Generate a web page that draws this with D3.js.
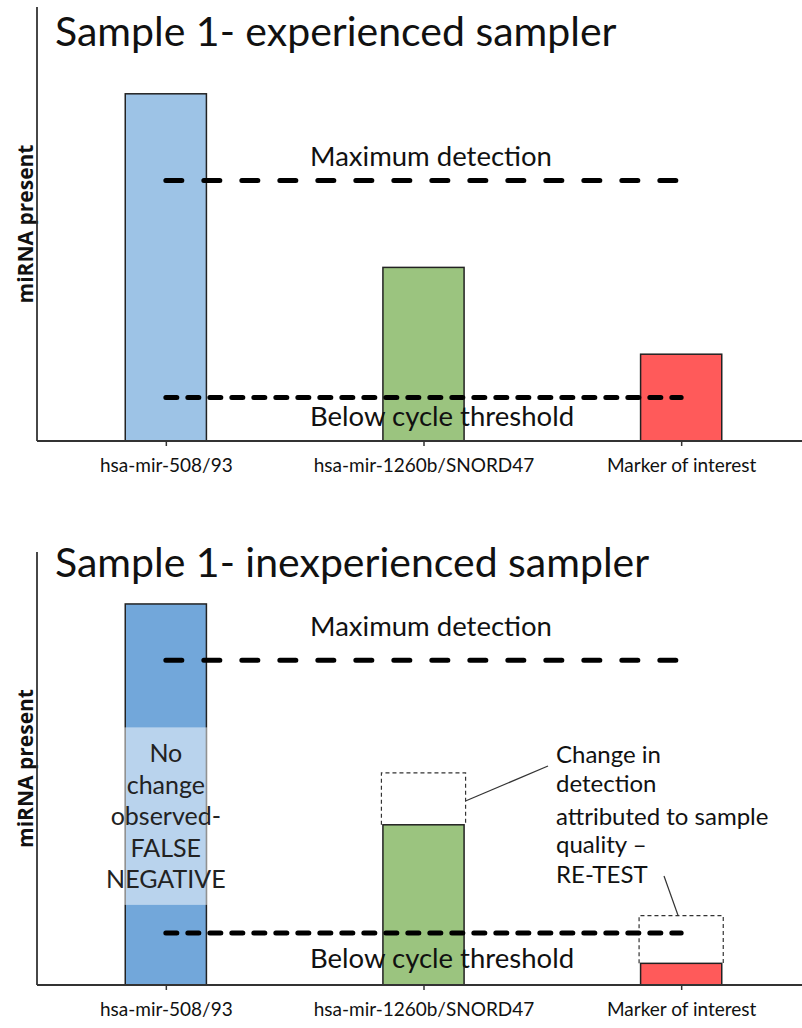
<!DOCTYPE html>
<html>
<head>
<meta charset="utf-8">
<script src="https://cdn.jsdelivr.net/npm/d3@7"></script>
<style>
  html, body { margin: 0; padding: 0; background: #fff; }
  svg { display: block; font-family: Lato, "Open Sans", sans-serif; }
</style>
</head>
<body>
<svg id="chart" width="802" height="1028"></svg>
<script>
// Marker categories shared by both panels
const categories = ["hsa-mir-508/93", "hsa-mir-1260b/SNORD47", "Marker of interest"];

// Relative miRNA signal (arbitrary units, 0-100)
const experiencedValues = [80, 40, 20];
const inexperiencedValues = [88, 37, 5];

// Level the inexperienced sample should have reached (dashed outline), null = no change
const expectedValues = [null, 49, 16];

// Detection limits per panel
const experiencedLimits = { max: 60, min: 10 };
const inexperiencedLimits = { max: 75, min: 12 };

// Part of the first bar that hides the drop (false negative)
const falseNegativeBand = [18.5, 59.5];

const titles = ["Sample 1- experienced sampler", "Sample 1- inexperienced sampler"];
const falseNegativeText = ["No", "change", "observed-", "FALSE", "NEGATIVE"];
const retestText = ["Change in", "detection", "attributed to sample", "quality \u2013", "RE-TEST"];

const colors = ["#9dc3e6", "#9bc47f", "#ff5a5a"];
const colorsDark = ["#72a7da", "#9bc47f", "#ff5a5a"];

const svg = d3.select("#chart");
const left = 37, right = 810;

const x = d3.scalePoint().domain(categories).range([left, right]).padding(0.5);
const barWidth = x.step() * 0.315;

function drawPanel(cfg) {
  const g = svg.append("g");
  const y = d3.scaleLinear().domain([0, 100]).range([cfg.bottom, cfg.top]);

  // title
  g.append("text")
    .attr("x", 55).attr("y", cfg.titleY)
    .attr("font-size", 41).attr("fill", "#111")
    .text(cfg.title);

  // y axis label
  g.append("text")
    .attr("transform", `translate(33,${(cfg.top + cfg.bottom) / 2}) rotate(-90)`)
    .attr("text-anchor", "middle")
    .attr("font-family", "'Open Sans', sans-serif")
    .attr("font-size", 21).attr("font-weight", "bold").attr("fill", "#111")
    .text("miRNA present");

  // bars
  g.selectAll("rect.bar").data(cfg.values).join("rect")
    .attr("class", "bar")
    .attr("x", (d, i) => x(categories[i]) - barWidth / 2)
    .attr("width", barWidth)
    .attr("y", d => y(d))
    .attr("height", d => y(0) - y(d))
    .attr("fill", (d, i) => cfg.colors[i])
    .attr("stroke", "#222").attr("stroke-width", 1.5);

  if (cfg.extra) cfg.extra(g, y);

  // detection limits
  const x0 = x(categories[0]), x1 = x(categories[categories.length - 1]);
  g.append("line")
    .attr("x1", x0).attr("x2", x1)
    .attr("y1", y(cfg.limits.max)).attr("y2", y(cfg.limits.max))
    .attr("stroke", "#000").attr("stroke-width", 5)
    .attr("stroke-linecap", "round").attr("stroke-dasharray", "16,22");
  g.append("line")
    .attr("x1", x0).attr("x2", x1)
    .attr("y1", y(cfg.limits.min)).attr("y2", y(cfg.limits.min))
    .attr("stroke", "#000").attr("stroke-width", 5)
    .attr("stroke-linecap", "round").attr("stroke-dasharray", "11,11");

  g.append("text")
    .attr("x", 431).attr("y", y(cfg.limits.max) + cfg.maxLabelDy)
    .attr("text-anchor", "middle").attr("font-size", 27.5).attr("fill", "#111")
    .text("Maximum detection");
  g.append("text")
    .attr("x", 442).attr("y", y(cfg.limits.min) + cfg.minLabelDy)
    .attr("text-anchor", "middle").attr("font-size", 27.5).attr("fill", "#111")
    .text("Below cycle threshold");

  // axes
  g.append("line")
    .attr("x1", left).attr("x2", left)
    .attr("y1", cfg.top).attr("y2", cfg.bottom)
    .attr("stroke", "#333").attr("stroke-width", 1.8);

  const axis = d3.axisBottom(x).tickSize(5).tickPadding(13);
  const ax = g.append("g").attr("transform", `translate(0,${cfg.bottom})`).call(axis);
  ax.select(".domain").attr("d", `M${left},0H802`).attr("stroke", "#333").attr("stroke-width", 1.8);
  ax.selectAll(".tick line").attr("stroke", "#333").attr("stroke-width", 1.5);
  ax.selectAll(".tick text")
    .attr("font-family", "Lato, sans-serif").attr("font-size", 19).attr("fill", "#111");
}

drawPanel({
  title: titles[0], titleY: 46, top: 7, bottom: 441,
  values: experiencedValues, colors: colors, limits: experiencedLimits,
  maxLabelDy: -15, minLabelDy: 28
});

drawPanel({
  title: titles[1], titleY: 577, top: 552, bottom: 985,
  values: inexperiencedValues, colors: colorsDark, limits: inexperiencedLimits,
  maxLabelDy: -24, minLabelDy: 35,
  extra: (g, y) => {
    // lightened band on the first bar
    const cx = x(categories[0]);
    g.append("rect")
      .attr("x", cx - barWidth / 2 - 1).attr("width", barWidth + 2)
      .attr("y", y(falseNegativeBand[1]))
      .attr("height", y(falseNegativeBand[0]) - y(falseNegativeBand[1]))
      .attr("fill", "#fff").attr("opacity", 0.5);
    g.append("g").selectAll("text").data(falseNegativeText).join("text")
      .attr("x", cx).attr("y", (d, i) => 762 + i * 31.5)
      .attr("text-anchor", "middle").attr("font-size", 25).attr("fill", "#222")
      .text(d => d);

    // expected levels as dashed outlines above the measured bars
    const exp = expectedValues.map((v, i) => ({ v, i })).filter(d => d.v !== null);
    g.selectAll("path.expected").data(exp).join("path")
      .attr("class", "expected")
      .attr("d", d => {
        const xl = x(categories[d.i]) - barWidth / 2 - 1.5;
        const xr = x(categories[d.i]) + barWidth / 2 + 1.5;
        const yt = y(d.v), yb = y(inexperiencedValues[d.i]);
        return `M${xl},${yb}V${yt}H${xr}V${yb}`;
      })
      .attr("fill", "none").attr("stroke", "#333").attr("stroke-width", 1.2)
      .attr("stroke-dasharray", "4,3");

    // note and leader lines
    const tx = 556;
    const lineY = [763, 792, 825, 853, 883];
    g.append("g").selectAll("text").data(retestText).join("text")
      .attr("x", tx).attr("y", (d, i) => lineY[i])
      .attr("font-size", 24).attr("fill", "#111")
      .text(d => d);

    const g1 = exp[0], g2 = exp[1];
    g.append("line")
      .attr("x1", x(categories[g1.i]) + barWidth / 2 + 2)
      .attr("y1", y((g1.v + inexperiencedValues[g1.i]) / 2) + 2)
      .attr("x2", tx - 8).attr("y2", 766)
      .attr("stroke", "#333").attr("stroke-width", 1.2);
    g.append("line")
      .attr("x1", 664).attr("y1", 876)
      .attr("x2", x(categories[g2.i]) - 3).attr("y2", y(g2.v))
      .attr("stroke", "#333").attr("stroke-width", 1.2);
  }
});
</script>
</body>
</html>
